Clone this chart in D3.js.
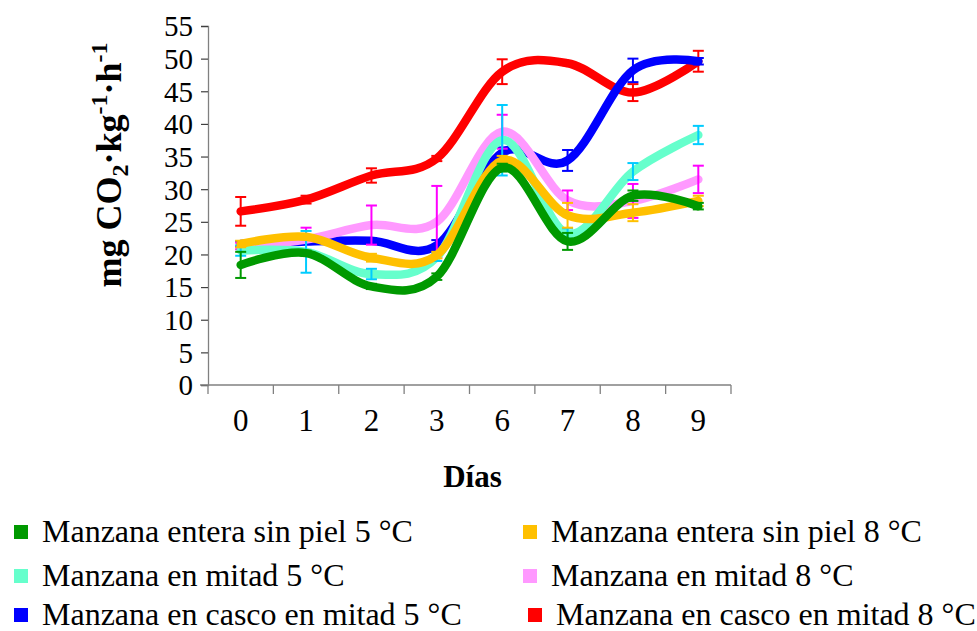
<!DOCTYPE html>
<html>
<head>
<meta charset="utf-8">
<script src="https://cdn.jsdelivr.net/npm/d3@7"></script>
<style>
  html, body { margin: 0; padding: 0; background: #fff; }
  svg { display: block; }
  svg text { font-family: "Liberation Serif", "Times New Roman", "DejaVu Serif", serif; fill: #000; }
</style>
</head>
<body>
<svg id="chart" width="977" height="631"></svg>
<script>
// Respiration rate by storage day
const days = ["0", "1", "2", "3", "6", "7", "8", "9"];
const yTicks = [0, 5, 10, 15, 20, 25, 30, 35, 40, 45, 50, 55];

const seriesNames = [
  "Manzana entera sin piel 5 °C",
  "Manzana entera sin piel 8 °C",
  "Manzana en mitad 5 °C",
  "Manzana en mitad 8 °C",
  "Manzana en casco en mitad 5 °C",
  "Manzana en casco en mitad 8 °C"
];
const lineColors = ["#009900", "#FFC000", "#66FFCC", "#FF99FF", "#0000FF", "#FF0000"];
const errColors  = ["#009900", "#FFC000", "#00CCFF", "#FF00FF", "#0000FF", "#FF0000"];

const enteraSinPiel5 = [18.4, 20.2, 15.1, 16.6, 33.3, 22.0, 29.0, 27.4];
const enteraSinPiel8 = [21.6, 22.7, 19.5, 19.9, 34.4, 26.0, 26.4, 28.2];
const mitad5         = [20.6, 20.4, 17.0, 19.6, 37.5, 23.2, 32.7, 38.3];
const mitad8         = [21.3, 22.3, 24.5, 25.0, 38.8, 28.3, 28.2, 31.5];
const cascoMitad5    = [21.6, 22.0, 22.1, 21.4, 35.6, 34.4, 48.2, 49.6];
const cascoMitad8    = [26.6, 28.4, 32.1, 34.7, 48.0, 49.3, 44.8, 49.6];

const errEnteraSinPiel5 = [2.0, 0.4, 0.4, 0.5, 0.6, 1.3, 0.8, 0.5];
const errEnteraSinPiel8 = [0.5, 0.3, 0.6, 0.5, 0.7, 1.9, 1.3, 0.8];
const errMitad5         = [0.8, 3.2, 0.8, 0.6, 5.4, 0.8, 1.3, 1.4];
const errMitad8         = [0.5, 1.8, 3.0, 5.5, 2.6, 1.5, 2.6, 2.1];
const errCascoMitad5    = [0.4, 0.4, 0.4, 0.8, 0.8, 1.6, 1.8, 0.5];
const errCascoMitad8    = [2.2, 0.6, 1.1, 0.4, 1.9, 0.3, 1.3, 1.6];

const seriesValues = [enteraSinPiel5, enteraSinPiel8, mitad5, mitad8, cascoMitad5, cascoMitad8];
const seriesErrors = [errEnteraSinPiel5, errEnteraSinPiel8, errMitad5, errMitad8, errCascoMitad5, errCascoMitad8];

const svg = d3.select("#chart");
const serif = "Liberation Serif, Times New Roman, serif";

const plot = { left: 208, right: 731, top: 26, bottom: 385 };

const x = d3.scaleBand().domain(days).range([plot.left, plot.right]);
const y = d3.scaleLinear().domain([0, 55]).range([plot.bottom, plot.top]);
const cx = d => x(d) + x.bandwidth() / 2;

// Y axis
const yAxis = d3.axisLeft(y).tickValues(yTicks).tickSize(7).tickPadding(8);
const gy = svg.append("g").attr("transform", `translate(${plot.left},0)`).call(yAxis);
gy.attr("font-family", serif);
gy.select(".domain").attr("stroke", "#808080").attr("stroke-width", 1.3);
gy.selectAll(".tick line").attr("stroke", "#404040").attr("stroke-width", 1.2);
gy.selectAll(".tick text").attr("font-size", 29).attr("fill", "#000")
  .attr("font-family", serif).attr("dy", "0.34em");

// X axis: category labels at band centres, tick marks at band boundaries
const gx = svg.append("g").attr("transform", `translate(0,${plot.bottom})`);
gx.append("line").attr("x1", plot.left - 8).attr("x2", plot.right)
  .attr("y1", 0).attr("y2", 0).attr("stroke", "#808080").attr("stroke-width", 1.3);
const boundaries = days.map(d => x(d)).concat([plot.right]);
gx.selectAll("line.tk").data(boundaries).enter().append("line")
  .attr("class", "tk").attr("x1", d => d).attr("x2", d => d)
  .attr("y1", 0).attr("y2", 9).attr("stroke", "#808080").attr("stroke-width", 1.3);
gx.selectAll("text").data(days).enter().append("text")
  .attr("x", d => cx(d)).attr("y", 46).attr("text-anchor", "middle")
  .attr("font-size", 31).text(d => d);

// Axis titles
svg.append("text").attr("x", (plot.left + plot.right) / 2 + 3).attr("y", 487)
  .attr("text-anchor", "middle").attr("font-size", 31).attr("font-weight", "bold")
  .text("Días");

const yTitle = svg.append("text")
  .attr("transform", "translate(121,165) rotate(-90)")
  .attr("text-anchor", "middle").attr("font-size", 36).attr("font-weight", "bold");
yTitle.append("tspan").text("mg CO");
yTitle.append("tspan").attr("font-size", 24).attr("dy", 7).text("2");
yTitle.append("tspan").attr("dy", -7).text("·kg");
yTitle.append("tspan").attr("font-size", 24).attr("dy", -14).text("-1");
yTitle.append("tspan").attr("dy", 14).text("·h");
yTitle.append("tspan").attr("font-size", 24).attr("dy", -14).text("-1");

// Series: smoothed lines with error bars; drawn last-to-first so the first series sits on top
const line = d3.line()
  .x((v, i) => cx(days[i]))
  .y(v => y(v))
  .curve(d3.curveCatmullRom.alpha(0));

const order = [5, 4, 3, 2, 1, 0];
order.forEach(s => {
  const g = svg.append("g");
  const vals = seriesValues[s];
  const errs = seriesErrors[s];
  g.append("path").datum(vals)
    .attr("d", line)
    .attr("fill", "none")
    .attr("stroke", lineColors[s])
    .attr("stroke-width", 8.5)
    .attr("stroke-linejoin", "round")
    .attr("stroke-linecap", "round");
  const eb = g.selectAll("g.eb").data(vals.map((v, i) => ({ v, e: errs[i], d: days[i] })))
    .enter().append("g").attr("class", "eb")
    .attr("stroke", errColors[s]).attr("stroke-width", 2);
  eb.append("line").attr("x1", d => cx(d.d)).attr("x2", d => cx(d.d))
    .attr("y1", d => y(d.v + d.e)).attr("y2", d => y(d.v - d.e));
  eb.append("line").attr("x1", d => cx(d.d) - 5.5).attr("x2", d => cx(d.d) + 5.5)
    .attr("y1", d => y(d.v + d.e)).attr("y2", d => y(d.v + d.e));
  eb.append("line").attr("x1", d => cx(d.d) - 5.5).attr("x2", d => cx(d.d) + 5.5)
    .attr("y1", d => y(d.v - d.e)).attr("y2", d => y(d.v - d.e));
});

// Legend: two columns, three rows
const legendCols = [14, 523];
const legendRows = [532, 576, 615];
const legend = svg.append("g");
seriesNames.forEach((name, i) => {
  const lx = legendCols[i % 2] + (i === 5 ? 5 : 0);
  const ly = legendRows[Math.floor(i / 2)];
  legend.append("rect").attr("x", lx).attr("y", ly - 7).attr("width", 14).attr("height", 14)
    .attr("fill", lineColors[i]);
  legend.append("text").attr("x", lx + 28).attr("y", ly + 10)
    .attr("font-size", 32).text(name);
});
</script>
</body>
</html>
